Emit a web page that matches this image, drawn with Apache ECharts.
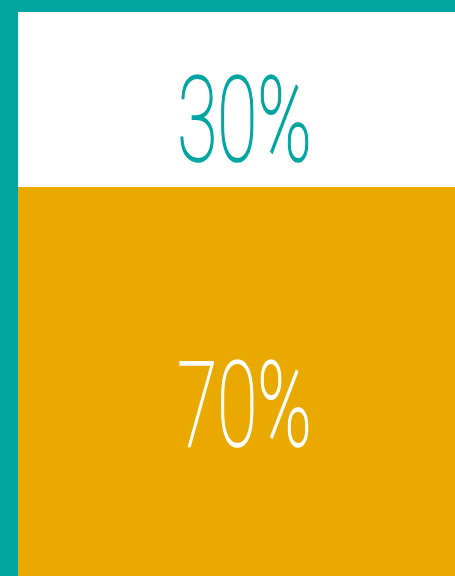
<!DOCTYPE html>
<html>
<head>
<meta charset="utf-8">
<script src="https://cdn.jsdelivr.net/npm/echarts@6/dist/echarts.min.js"></script>
<style>
html,body{margin:0;padding:0;background:#00a5a0;}
#chart{width:455px;height:576px;}
</style>
</head>
<body>
<div id="chart"></div>
<script>
// ---- data ----
const categories = ['Share'];
const bottomValues = [70];   // gold segment
const topValues = [30];      // white segment

// ---- styles ----
const TEAL = '#00a5a0';
const GOLD = '#e9a900';
const WHITE = '#ffffff';
const labelStyle = { fontFamily: 'Roboto', fontWeight: 100, fontSize: 118, scaleX: 0.62, strokeWidth: 1.6 };
const labelDy = [26, 32]; // per segment vertical nudge (bottom, top)
const labelDx = 8;
const labelColors = [WHITE, TEAL];

const chart = echarts.init(document.getElementById('chart'), null, { renderer: 'canvas' });

const labelData = [];
const labelTexts = [];
categories.forEach((c, i) => {
  labelData.push([i, 0, bottomValues[i]]);
  labelTexts.push(bottomValues[i] + '%');
  labelData.push([i, bottomValues[i], bottomValues[i] + topValues[i]]);
  labelTexts.push(topValues[i] + '%');
});

chart.setOption({
  backgroundColor: TEAL,
  animation: false,
  grid: { left: 18, right: 0, top: 12, bottom: -19, containLabel: false, outerBoundsMode: 'none' },
  xAxis: { type: 'category', data: categories, show: false },
  yAxis: { type: 'value', min: 0, max: 100, show: false },
  series: [
    { type: 'bar', stack: 'total', data: bottomValues, barWidth: '100%', itemStyle: { color: GOLD }, silent: true },
    { type: 'bar', stack: 'total', data: topValues, barWidth: '100%', itemStyle: { color: WHITE }, silent: true },
    {
      type: 'custom',
      clip: false,
      silent: true,
      z: 10,
      data: labelData,
      renderItem: function (params, api) {
        const x = api.value(0);
        const p0 = api.coord([x, api.value(1)]);
        const p1 = api.coord([x, api.value(2)]);
        const cx = p0[0] + labelDx;
        const cy = (p0[1] + p1[1]) / 2 + labelDy[params.dataIndex % 2];
        const col = labelColors[params.dataIndex % 2];
        return {
          type: 'group',
          children: [{
            type: 'text',
            x: cx,
            y: cy,
            scaleX: labelStyle.scaleX,
            style: {
              text: labelTexts[params.dataIndex],
              fill: col,
              stroke: col,
              lineWidth: labelStyle.strokeWidth,
              fontFamily: labelStyle.fontFamily,
              fontWeight: labelStyle.fontWeight,
              fontSize: labelStyle.fontSize,
              align: 'center',
              verticalAlign: 'middle'
            }
          }]
        };
      }
    }
  ]
});
</script>
</body>
</html>
